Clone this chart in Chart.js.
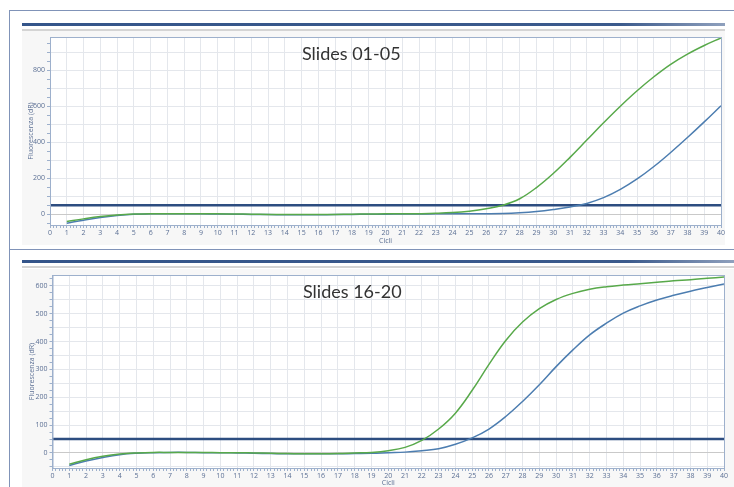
<!DOCTYPE html>
<html>
<head>
<meta charset="utf-8">
<script src="https://cdn.jsdelivr.net/npm/chart.js@4.4.1/dist/chart.umd.min.js"></script>
<style>
  body { margin: 0; background: #fff; width: 734px; height: 487px; overflow: hidden; position: relative; font-family: "Open Sans", sans-serif; }
  .frame { position: absolute; border: 1px solid #8093b8; }
  .panel-bg { position: absolute; background: #f7f7f7; }
  .bar { position: absolute; height: 3px; background: linear-gradient(to right, #34558a 0%, #3b5a8c 85%, #8fa0bd 100%); }
  .bar-under { position: absolute; height: 2px; background: #d4d4d4; }
  .box { position: absolute; }
  .slide-title { position: absolute; font-family: Lato, "Open Sans", sans-serif; font-size: 18px; color: #333; white-space: nowrap; z-index: 2; }
</style>
</head>
<body>
<!-- frames and header bars -->
<div class="frame" style="left:9px; top:10px; width:740px; height:600px;"></div>
<div style="position:absolute; left:9px; top:249px; width:725px; height:1px; background:#8093b8;"></div>

<div class="panel-bg" style="left:22px; top:31px; width:703px; height:214px;"></div>
<div class="bar" style="left:22px; top:23px; width:703px;"></div>
<div class="bar-under" style="left:22px; top:29px; width:703px;"></div>

<div class="panel-bg" style="left:22px; top:269px; width:712px; height:218px;"></div>
<div class="bar" style="left:22px; top:260px; width:712px;"></div>
<div class="bar-under" style="left:22px; top:266px; width:712px;"></div>

<div class="slide-title" style="left:302px; top:42px;">Slides 01-05</div>
<div class="slide-title" style="left:303px; top:280px;">Slides 16-20</div>

<div class="box" style="left:10px; top:30px; width:724px; height:215px;"><canvas id="chart-top"></canvas></div>
<div class="box" style="left:10px; top:268px; width:724px; height:219px;"><canvas id="chart-bottom"></canvas></div>

<script>
// cycles 1..40
const cycles = [1, 2, 3, 4, 5, 6, 7, 8, 9, 10, 11, 12, 13, 14, 15, 16, 17, 18, 19, 20,
  21, 22, 23, 24, 25, 26, 27, 28, 29, 30, 31, 32, 33, 34, 35, 36, 37, 38, 39, 40];

// Slides 01-05
const topGreen = [-41, -26, -13, -4, 1, 3, 3, 3, 2, 2, 1, 0, -1, -2, -2, -2, -1, 0, 1, 2,
  2, 3, 5, 9, 17, 30, 50, 86, 148, 226, 316, 412, 508, 600, 686, 764, 833, 890, 938, 980];
const topBlue = [-50, -33, -18, -7, 0, 2, 3, 2, 2, 1, 0, -1, -2, -3, -3, -3, -2, -1, 0, 0,
  1, 1, 2, 2, 3, 3, 4, 8, 15, 26, 40, 60, 92, 138, 196, 265, 343, 426, 513, 603];

// Slides 16-20
const bottomGreen = [-40, -24, -12, -4, 0, 2, 2, 2, 2, 1, 1, 0, -1, -2, -3, -3, -2, 0, 2, 8,
  20, 45, 86, 143, 225, 318, 404, 470, 518, 551, 573, 588, 597, 603, 608, 613, 618, 622, 627, 632];
const bottomBlue = [-45, -29, -16, -6, -1, 1, 2, 2, 1, 1, 0, -1, -2, -3, -3, -3, -3, -2, -1, 1,
  3, 8, 15, 31, 54, 86, 131, 185, 245, 310, 370, 424, 466, 502, 528, 549, 566, 581, 594, 607];

const threshold = 50;
const xRange = [0, 40];
const topYRange = [-60, 985];
const bottomYRange = [-54, 639];

const axisColor = "#9db0cc";
const labelColor = "#5b6f94";
const gridColor = "#e4e7ec";
const smallFont = { family: "Open Sans", size: 7 };

function points(values) {
  return cycles.map((c, i) => ({ x: c, y: values[i] }));
}

// white plot background + frame on all four sides
const plotFrame = {
  id: "plotFrame",
  beforeDraw(chart) {
    const a = chart.chartArea;
    chart.ctx.save();
    chart.ctx.fillStyle = "#ffffff";
    chart.ctx.fillRect(a.left, a.top, a.right - a.left, a.bottom - a.top);
    chart.ctx.restore();
  },
  afterDraw(chart) {
    const a = chart.chartArea;
    const ctx = chart.ctx;
    ctx.save();
    ctx.strokeStyle = axisColor;
    ctx.lineWidth = 1;
    ctx.strokeRect(a.left + 0.5, a.top + 0.5, a.right - a.left, a.bottom - a.top);
    ctx.restore();
  },
};

function makeChart(canvasId, green, blue, yRange, cfg) {
  const yTicks = [];
  for (let v = cfg.minorStep * Math.ceil(yRange[0] / cfg.minorStep); v <= yRange[1]; v += cfg.minorStep) yTicks.push(v);
  const xTicks = [];
  for (let i = xRange[0] * 5; i <= xRange[1] * 5; i++) xTicks.push(i / 5);

  return new Chart(document.getElementById(canvasId), {
    type: "line",
    data: {
      datasets: [
        {
          data: points(green),
          borderColor: "#58a94a",
          borderWidth: 1.5,
          pointRadius: 0,
          tension: 0.4,
        },
        {
          data: points(blue),
          borderColor: "#4c7db0",
          borderWidth: 1.5,
          pointRadius: 0,
          tension: 0.4,
        },
        {
          data: [{ x: xRange[0], y: threshold }, { x: xRange[1], y: threshold }],
          borderColor: "#2d4d80",
          borderWidth: 2.5,
          pointRadius: 0,
        },
      ],
    },
    options: {
      responsive: true,
      maintainAspectRatio: false,
      animation: false,
      layout: { padding: { left: cfg.padLeft, right: cfg.padRight, top: 7, bottom: 0 } },
      plugins: { legend: { display: false }, tooltip: { enabled: false } },
      scales: {
        x: {
          type: "linear",
          min: xRange[0],
          max: xRange[1],
          afterBuildTicks: (scale) => { scale.ticks = xTicks.map((v) => ({ value: v })); },
          afterFit: (scale) => { scale.height = cfg.xHeight; },
          ticks: {
            autoSkip: false,
            maxRotation: 0,
            padding: 1,
            color: labelColor,
            font: smallFont,
            callback: (v) => (Number.isInteger(v) ? v : ""),
          },
          grid: {
            tickLength: 3,
            color: (ctx) => (Number.isInteger(ctx.tick.value) ? gridColor : "rgba(0,0,0,0)"),
            tickColor: axisColor,
          },
          border: { color: axisColor },
          title: { display: true, text: "Cicli", color: labelColor, font: smallFont, padding: 0 },
        },
        y: {
          type: "linear",
          min: yRange[0],
          max: yRange[1],
          afterBuildTicks: (scale) => { scale.ticks = yTicks.map((v) => ({ value: v })); },
          afterFit: (scale) => { scale.width = cfg.yWidth; },
          ticks: {
            autoSkip: false,
            padding: cfg.yPad,
            color: labelColor,
            font: smallFont,
            callback: (v) => (v % cfg.labelStep === 0 ? v : ""),
          },
          grid: {
            tickLength: 3,
            color: (ctx) => {
              const v = ctx.tick.value;
              if (v === 0) return "#c9c9c9";
              return v % cfg.gridStep === 0 ? gridColor : "rgba(0,0,0,0)";
            },
            tickColor: axisColor,
          },
          border: { color: axisColor },
          title: { display: true, text: "Fluorescenza (dR)", color: labelColor, font: smallFont, padding: 0 },
        },
      },
    },
    plugins: [plotFrame],
  });
}

makeChart("chart-top", topGreen, topBlue, topYRange, {
  padLeft: 17, padRight: 13, yWidth: 23, xHeight: 20, yPad: 2,
  minorStep: 50, labelStep: 200, gridStep: 100,
});
makeChart("chart-bottom", bottomGreen, bottomBlue, bottomYRange, {
  padLeft: 18, padRight: 10, yWidth: 24.5, xHeight: 19, yPad: 2,
  minorStep: 25, labelStep: 100, gridStep: 50,
});
</script>
</body>
</html>
